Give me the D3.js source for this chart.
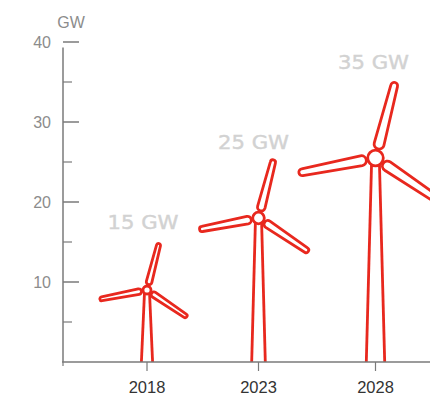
<!DOCTYPE html>
<html>
<head>
<meta charset="utf-8">
<script src="https://cdn.jsdelivr.net/npm/d3@7"></script>
<style>
html, body { margin: 0; padding: 0; background: #fff; }
svg { display: block; }
text { font-family: "Liberation Sans", Arial, sans-serif; }
</style>
</head>
<body>
<svg id="chart" width="430" height="397"></svg>
<script>
// Wind capacity by year; hub height follows the GW axis
const years = [2018, 2023, 2028];
const capacities = [15, 25, 35];
const hubHeights = [9, 18, 25.5];
const majorTicks = [10, 20, 30, 40];
const minorTicks = [5, 15, 25, 35];

// Turbine proportions, one entry per year
const bladeLengths = [48, 60, 78];
const hubRadii = [4, 5.8, 7.8];
const bladeRootWidths = [2.8, 3.8, 5];
const bladeTipWidths = [2, 2.6, 3.4];
const towerBaseWidths = [5.6, 6.8, 9.2];
const towerTopWidths = [2.4, 3, 3.8];
const bladeAngles = [14.5, 124, 259];

const RED = "#e8281e";
const AXIS = "#7a7a7a";
const svg = d3.select("#chart");

const y = d3.scaleLinear().domain([0, 40]).range([362, 42]);
const x = d3.scaleOrdinal().domain(years).range([147, 258.5, 375.5]);

// Vertical axis: labelled major ticks, short unlabelled minor ticks
const axisX = 63;
const left = svg.append("g").attr("transform", `translate(${axisX},0)`);
left.append("line")
  .attr("y1", y(39.3)).attr("y2", y(0))
  .attr("stroke", AXIS).attr("stroke-width", 1.5);
left.selectAll("line.major").data(majorTicks).join("line")
  .attr("class", "major")
  .attr("x1", 0).attr("x2", 16)
  .attr("y1", d => y(d)).attr("y2", d => y(d))
  .attr("stroke", AXIS).attr("stroke-width", 1.5);
left.selectAll("line.minor").data(minorTicks).join("line")
  .attr("class", "minor")
  .attr("x1", 0).attr("x2", 9)
  .attr("y1", d => y(d)).attr("y2", d => y(d))
  .attr("stroke", AXIS).attr("stroke-width", 1.2);
left.selectAll("text").data(majorTicks).join("text")
  .attr("x", -12).attr("y", d => y(d) + 5.5)
  .attr("text-anchor", "end")
  .attr("font-size", 16).attr("fill", "#8c8c8c")
  .text(d => d);
svg.append("text")
  .attr("x", 71).attr("y", 28)
  .attr("text-anchor", "middle")
  .attr("font-size", 16).attr("fill", "#8c8c8c")
  .text("GW");

// Tapered, round-ended blade pointing up from the hub centre
function bladePath(len, r0, w0, w1) {
  const p = d3.path();
  const tip = len - w1;
  p.moveTo(-w0, -r0 - w0);
  p.lineTo(-w1, -tip);
  p.arc(0, -tip, w1, Math.PI, 0);
  p.lineTo(w0, -r0 - w0);
  p.arc(0, -r0 - w0, w0, 0, Math.PI);
  p.closePath();
  return p.toString();
}

const turbines = svg.selectAll("g.turbine").data(years).join("g")
  .attr("class", "turbine");

turbines.each(function (year, i) {
  const g = d3.select(this);
  const cx = x(year), cy = y(hubHeights[i]);
  [-1, 1].forEach(side => {
    g.append("line")
      .attr("x1", cx + side * towerTopWidths[i]).attr("y1", cy)
      .attr("x2", cx + side * towerBaseWidths[i]).attr("y2", y(0))
      .attr("stroke", RED).attr("stroke-width", 2.8);
  });
  bladeAngles.forEach(a => {
    g.append("path")
      .attr("d", bladePath(bladeLengths[i], hubRadii[i] + 1.6, bladeRootWidths[i], bladeTipWidths[i]))
      .attr("transform", `translate(${cx},${cy}) rotate(${a})`)
      .attr("fill", "#fff")
      .attr("stroke", RED).attr("stroke-width", 2.8)
      .attr("stroke-linejoin", "round");
  });
  g.append("circle")
    .attr("cx", cx).attr("cy", cy).attr("r", hubRadii[i])
    .attr("fill", "#fff")
    .attr("stroke", RED).attr("stroke-width", 2.8);
});

// Capacity captions sit just above their own value on the GW axis
const captionShift = [-4, -5, -2];
svg.selectAll("text.capacity").data(capacities).join("text")
  .attr("class", "capacity")
  .attr("x", (d, i) => x(years[i]) + captionShift[i])
  .attr("y", d => y(d) - 13)
  .attr("text-anchor", "middle")
  .attr("font-size", 19)
  .attr("textLength", 71).attr("lengthAdjust", "spacingAndGlyphs")
  .style("font-family", "'DejaVu Sans', sans-serif")
  .attr("fill", "#d2d2d2")
  .attr("stroke", "#d2d2d2").attr("stroke-width", 0.4)
  .text(d => `${d} GW`);

// Horizontal axis
const bottom = svg.append("g");
bottom.append("line")
  .attr("x1", axisX - 1).attr("x2", 430)
  .attr("y1", y(0)).attr("y2", y(0))
  .attr("stroke", AXIS).attr("stroke-width", 1.5);
bottom.append("line")
  .attr("x1", axisX).attr("x2", axisX)
  .attr("y1", y(0)).attr("y2", y(0) + 4)
  .attr("stroke", AXIS).attr("stroke-width", 1.2);
bottom.selectAll("line.tick").data(years).join("line")
  .attr("class", "tick")
  .attr("x1", d => x(d)).attr("x2", d => x(d))
  .attr("y1", y(0)).attr("y2", y(0) + 9)
  .attr("stroke", AXIS).attr("stroke-width", 1.2);
bottom.selectAll("text").data(years).join("text")
  .attr("x", d => x(d)).attr("y", 393.4)
  .attr("text-anchor", "middle")
  .attr("font-size", 16.5).attr("fill", "#333")
  .text(d => d);
</script>
</body>
</html>
